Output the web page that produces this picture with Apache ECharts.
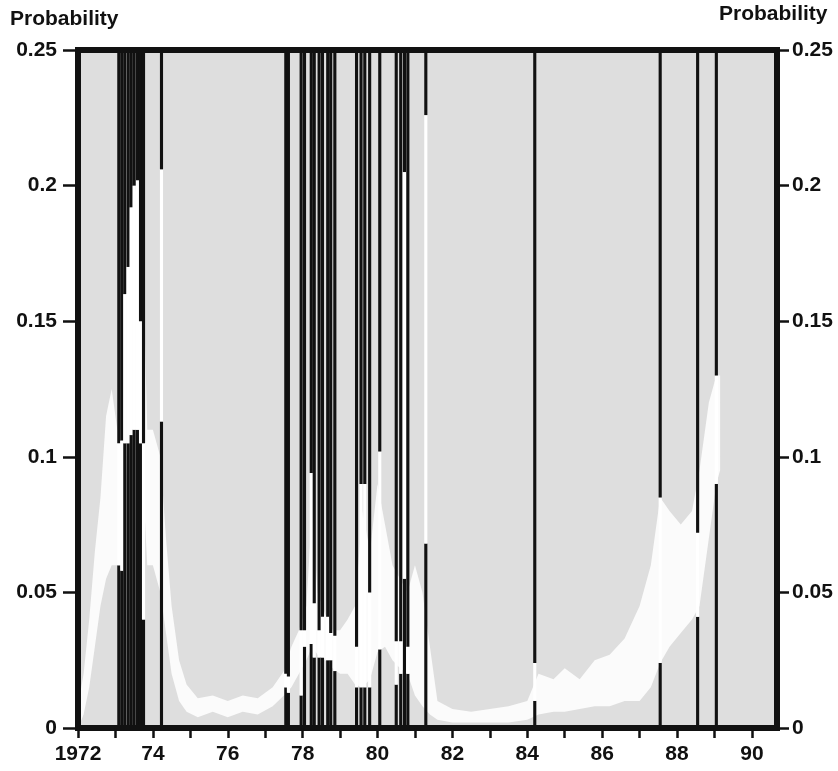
<!DOCTYPE html>
<html>
<head>
<meta charset="utf-8">
<script src="https://cdn.jsdelivr.net/npm/echarts@6/dist/echarts.min.js"></script>
<style>
html,body{margin:0;padding:0;background:#fff;}
#chart{width:838px;height:771px;}
</style>
</head>
<body>
<div id="chart"></div>
<script>
// ---- data ----
const tickYears = [1972,1973,1974,1975,1976,1977,1978,1979,1980,1981,1982,1983,1984,1985,1986,1987,1988,1989,1990];
const labelYears = [1972,1974,1976,1978,1980,1982,1984,1986,1988,1990];
const labelTexts = ['1972','74','76','78','80','82','84','86','88','90'];
const yTicks = [0,0.05,0.1,0.15,0.2,0.25];

// black monthly bars: year position, and the white interruption [gapLow, gapHigh]
const barYear = [1973.09,1973.17,1973.25,1973.34,1973.42,1973.50,1973.59,1973.67,1973.75,
  1974.23,1977.55,1977.62,1977.96,1978.05,1978.23,1978.31,1978.44,1978.53,1978.67,1978.75,1978.86,
  1979.44,1979.56,1979.66,1979.79,1980.06,1980.50,1980.62,1980.72,1980.81,1981.29,
  1984.20,1987.55,1988.55,1989.05];
const barGapLow = [0.060,0.058,0.105,0.105,0.108,0.110,0.110,0.105,0.040,
  0.113,0.015,0.013,0.012,0.030,0.031,0.026,0.026,0.026,0.025,0.025,0.021,
  0.015,0.015,0.015,0.015,0.029,0.016,0.020,0.055,0.020,0.068,
  0.010,0.024,0.041,0.090];
const barGapHigh = [0.105,0.106,0.160,0.170,0.192,0.200,0.202,0.150,0.105,
  0.206,0.020,0.019,0.036,0.036,0.094,0.046,0.036,0.041,0.041,0.035,0.034,
  0.030,0.090,0.090,0.050,0.102,0.032,0.032,0.205,0.030,0.226,
  0.024,0.085,0.072,0.130];

// white probability trace (band between low and high)
const bandYear = [1972.00,1972.15,1972.30,1972.45,1972.60,1972.75,1972.90,1973.05,1973.20,1973.30,1973.50,1973.70,1973.85,1974.00,1974.20,1974.35,1974.50,1974.70,1974.90,1975.20,1975.60,1976.00,1976.40,1976.80,1977.20,1977.50,1977.70,1977.90,1978.10,1978.25,1978.40,1978.60,1978.80,1979.00,1979.20,1979.40,1979.60,1979.80,1980.00,1980.20,1980.40,1980.60,1980.80,1981.00,1981.20,1981.40,1981.60,1982.00,1982.50,1983.00,1983.50,1984.00,1984.30,1984.70,1985.00,1985.40,1985.80,1986.20,1986.60,1987.00,1987.30,1987.55,1987.80,1988.10,1988.40,1988.60,1988.85,1989.05,1989.15];
const bandLow = [0.000,0.005,0.015,0.030,0.045,0.055,0.060,0.060,0.058,0.100,0.110,0.100,0.060,0.060,0.050,0.035,0.020,0.010,0.006,0.004,0.006,0.004,0.006,0.005,0.008,0.012,0.015,0.020,0.025,0.030,0.027,0.025,0.022,0.020,0.020,0.016,0.015,0.018,0.028,0.030,0.025,0.022,0.020,0.012,0.008,0.005,0.003,0.002,0.002,0.002,0.002,0.003,0.005,0.006,0.006,0.007,0.008,0.008,0.010,0.010,0.015,0.024,0.030,0.035,0.040,0.045,0.070,0.090,0.095];
const bandHigh = [0.008,0.020,0.040,0.065,0.085,0.115,0.125,0.110,0.110,0.180,0.200,0.190,0.110,0.110,0.100,0.070,0.045,0.025,0.016,0.011,0.012,0.010,0.012,0.011,0.015,0.021,0.030,0.036,0.045,0.080,0.050,0.042,0.036,0.036,0.040,0.045,0.080,0.065,0.090,0.075,0.060,0.055,0.050,0.060,0.050,0.030,0.010,0.007,0.006,0.007,0.008,0.010,0.020,0.018,0.022,0.018,0.025,0.027,0.033,0.045,0.060,0.085,0.080,0.075,0.080,0.095,0.120,0.130,0.130];

// ---- chart ----
const FONT = '"Liberation Sans", Arial, Helvetica, sans-serif';
const INK = '#111111';
const chart = echarts.init(document.getElementById('chart'), null, {renderer: 'canvas'});

const bandData = bandYear.map((y, i) => [y, bandLow[i], bandHigh[i]]);
const barData = barYear.map((y, i) => [y, barGapLow[i], barGapHigh[i]]);

const labelStyle = {fontFamily: FONT, fontSize: 21, fontWeight: 'bold', color: INK};

chart.setOption({
  animation: false,
  backgroundColor: '#ffffff',
  grid: {left: 78, right: 61, top: 50, bottom: 43, show: true, backgroundColor: '#dedede', borderWidth: 0},
  xAxis: [
    {
      type: 'value', min: 1972, max: 1990.67, position: 'bottom', z: 10,
      axisLine: {show: true, onZero: false, lineStyle: {color: INK, width: 6, cap: 'square'}},
      axisTick: {show: true, length: 10, customValues: tickYears, lineStyle: {color: INK, width: 2.5}},
      axisLabel: Object.assign({
        customValues: labelYears, margin: 16,
        formatter: function (v) { const k = labelYears.indexOf(Math.round(v)); return k >= 0 ? labelTexts[k] : ''; }
      }, labelStyle),
      splitLine: {show: false}
    },
    {
      type: 'value', min: 1972, max: 1990.67, position: 'top', z: 10,
      axisLine: {show: true, onZero: false, lineStyle: {color: INK, width: 6, cap: 'square'}},
      axisTick: {show: false}, axisLabel: {show: false}, splitLine: {show: false}
    }
  ],
  yAxis: [
    {
      type: 'value', min: 0, max: 0.25, interval: 0.05, position: 'left', z: 10,
      axisLine: {show: true, onZero: false, lineStyle: {color: INK, width: 6, cap: 'square'}},
      axisTick: {show: true, length: 15, lineStyle: {color: INK, width: 2.5}},
      axisLabel: Object.assign({margin: 21, customValues: yTicks}, labelStyle),
      splitLine: {show: false}
    },
    {
      type: 'value', min: 0, max: 0.25, interval: 0.05, position: 'right', z: 10,
      axisLine: {show: true, onZero: false, lineStyle: {color: INK, width: 6, cap: 'square'}},
      axisTick: {show: true, length: 12, lineStyle: {color: INK, width: 2.5}},
      axisLabel: Object.assign({margin: 15, customValues: yTicks}, labelStyle),
      splitLine: {show: false}
    }
  ],
  graphic: [
    {type: 'text', left: 10, top: 9, style: {text: 'Probability', font: 'bold 21px ' + FONT, fill: INK}},
    {type: 'text', left: 719, top: 4, style: {text: 'Probability', font: 'bold 21px ' + FONT, fill: INK}}
  ],
  series: [
    {
      name: 'band', type: 'custom', z: 1, data: bandData, silent: true, clip: true,
      renderItem: function (params, api) {
        if (params.dataIndex !== 0) return null;
        const upper = bandYear.map((y, i) => api.coord([y, bandHigh[i]]));
        const lower = bandYear.map((y, i) => api.coord([y, bandLow[i]])).reverse();
        return {type: 'polygon', shape: {points: upper.concat(lower)}, style: {fill: '#fbfbfb'}};
      }
    },
    {
      name: 'bars', type: 'custom', z: 3, data: barData, silent: true,
      renderItem: function (params, api) {
        const x = api.value(0), lo = api.value(1), hi = api.value(2);
        const p0 = api.coord([x, 0]);
        const pl = api.coord([x, lo]);
        const ph = api.coord([x, hi]);
        const pt = api.coord([x, 0.25]);
        const w = api.size([1 / 12, 0])[0] * 1.0;
        const left = p0[0] - w / 2;
        return {
          type: 'group',
          children: [
            {type: 'rect', shape: {x: left, y: pl[1], width: w, height: p0[1] - pl[1]}, style: {fill: INK}},
            {type: 'rect', shape: {x: left, y: ph[1], width: w, height: pl[1] - ph[1]}, style: {fill: '#ffffff'}},
            {type: 'rect', shape: {x: left, y: pt[1], width: w, height: ph[1] - pt[1]}, style: {fill: INK}}
          ]
        };
      }
    }
  ]
});
</script>
</body>
</html>
